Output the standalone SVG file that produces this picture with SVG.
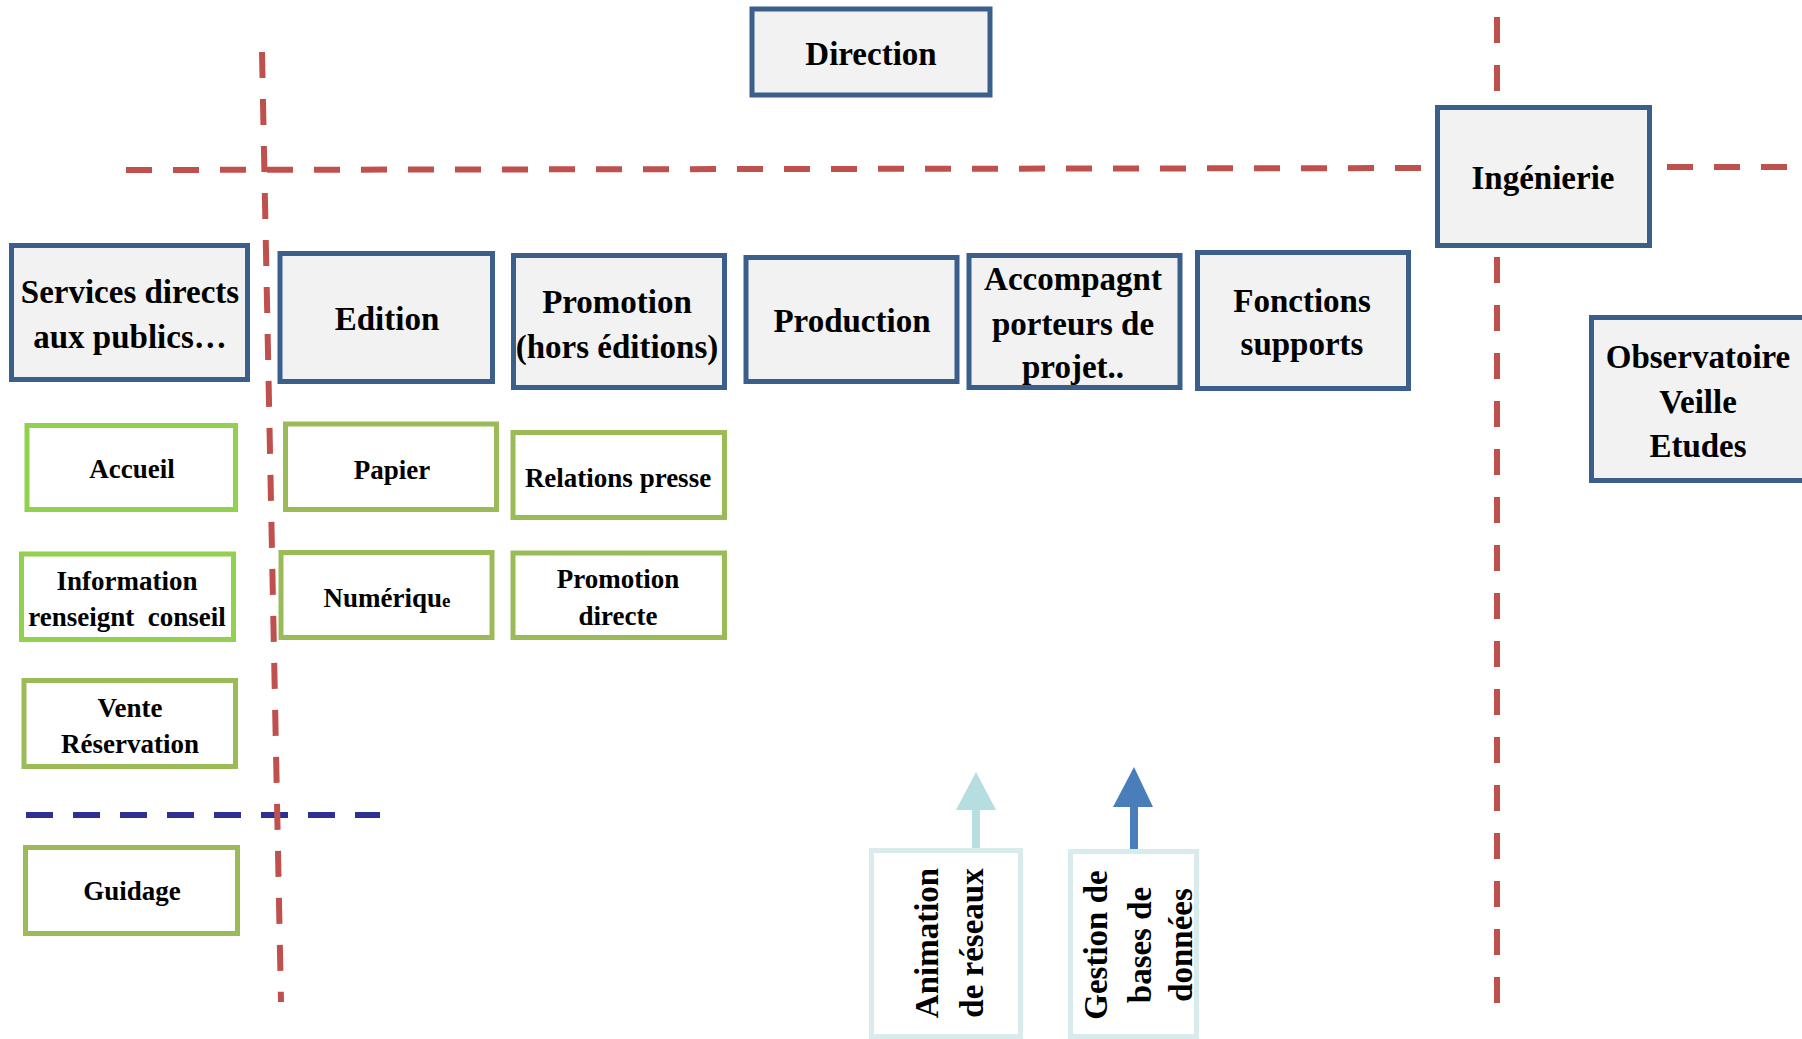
<svg xmlns="http://www.w3.org/2000/svg" width="1802" height="1039" viewBox="0 0 1802 1039">
<style>
.main{fill:#f2f2f2;stroke:#3a5f8b;stroke-width:5}
.sub{fill:#ffffff;stroke:#9bbb59;stroke-width:5}
.sub2{fill:#ffffff;stroke:#92d050;stroke-width:5}
.pale{fill:#ffffff;stroke:#d8ecee;stroke-width:5}
.t{font-family:"Liberation Serif","Times New Roman",serif;font-weight:bold;fill:#000;text-anchor:middle}
.big{font-size:33px}
.small{font-size:27px}
.red{stroke:#c0504d;stroke-width:6;stroke-dasharray:26 21;fill:none}
.blue{stroke:#2e3192;stroke-width:6;stroke-dasharray:27 20;fill:none}
</style>
<rect width="1802" height="1039" fill="#ffffff"/>
<g id="connectors">
  <line class="blue" x1="26" y1="815" x2="380" y2="815"/>
  <line class="red" x1="262" y1="52" x2="281" y2="1002"/>
  <line class="red" x1="126" y1="170" x2="1437" y2="168"/>
  <line class="red" x1="1667" y1="167" x2="1802" y2="167"/>
  <line class="red" x1="1497" y1="17" x2="1497" y2="1003" style="stroke-dasharray:26 22"/>
  <line x1="976" y1="860" x2="976" y2="806" stroke="#b6dde0" stroke-width="8"/>
  <polygon points="976,772 956,810 996,810" fill="#b6dde0"/>
  <line x1="1134" y1="857" x2="1134" y2="803" stroke="#4a7ebb" stroke-width="8"/>
  <polygon points="1134,767 1113,807 1153,807" fill="#4a7ebb"/>
</g>
<g id="direction">
  <rect class="main" x="752" y="9" width="238" height="86"/>
  <text class="t big" x="871" y="65">Direction</text>
</g>
<g id="services">
  <rect class="main" x="11.5" y="245.5" width="236" height="134"/>
  <text class="t big" x="130" y="303">Services directs</text>
  <text class="t big" x="130" y="348">aux publics…</text>
</g>
<g id="edition">
  <rect class="main" x="280" y="253.5" width="212.5" height="128"/>
  <text class="t big" x="387" y="330">Edition</text>
</g>
<g id="promotion">
  <rect class="main" x="513.5" y="255.5" width="211" height="132"/>
  <text class="t big" x="617" y="313">Promotion</text>
  <text class="t big" x="617" y="358">(hors éditions)</text>
</g>
<g id="production">
  <rect class="main" x="746" y="257.5" width="211" height="124"/>
  <text class="t big" x="852" y="332">Production</text>
</g>
<g id="accompagnement">
  <rect class="main" x="969" y="255.5" width="211" height="132"/>
  <text class="t big" x="1073" y="290">Accompagnt</text>
  <text class="t big" x="1073" y="335">porteurs de</text>
  <text class="t big" x="1073" y="378">projet..</text>
</g>
<g id="fonctions">
  <rect class="main" x="1197.5" y="252.5" width="211" height="136"/>
  <text class="t big" x="1302" y="312">Fonctions</text>
  <text class="t big" x="1302" y="355">supports</text>
</g>
<g id="ingenierie">
  <rect class="main" x="1437.5" y="107.5" width="212" height="138"/>
  <text class="t big" x="1543" y="189">Ingénierie</text>
</g>
<g id="observatoire">
  <rect class="main" x="1591.5" y="317.5" width="214" height="163"/>
  <text class="t big" x="1698" y="368">Observatoire</text>
  <text class="t big" x="1698" y="413">Veille</text>
  <text class="t big" x="1698" y="457">Etudes</text>
</g>
<g id="accueil">
  <rect class="sub2" x="27" y="425.5" width="208.5" height="84"/>
  <text class="t small" x="132" y="478">Accueil</text>
</g>
<g id="information">
  <rect class="sub2" x="21.5" y="554" width="212" height="85.5"/>
  <text class="t small" x="127" y="590">Information</text>
  <text class="t small" x="127" y="626" xml:space="preserve">renseignt  conseil</text>
</g>
<g id="vente">
  <rect class="sub" x="24" y="680.5" width="211.5" height="86"/>
  <text class="t small" x="130" y="717">Vente</text>
  <text class="t small" x="130" y="753">Réservation</text>
</g>
<g id="guidage">
  <rect class="sub" x="25.5" y="847.5" width="212" height="86"/>
  <text class="t small" x="132" y="900">Guidage</text>
</g>
<g id="papier">
  <rect class="sub" x="285.5" y="424" width="211" height="85.5"/>
  <text class="t small" x="392" y="479">Papier</text>
</g>
<g id="numerique">
  <rect class="sub" x="281" y="552.5" width="211" height="85"/>
  <text class="t small" x="387" y="607">Numériqu<tspan font-size="19px">e</tspan></text>
</g>
<g id="relations">
  <rect class="sub" x="513" y="432.5" width="211.5" height="85"/>
  <text class="t small" x="618" y="487">Relations presse</text>
</g>
<g id="promodirecte">
  <rect class="sub" x="513" y="553" width="211.5" height="84.5"/>
  <text class="t small" x="618" y="588">Promotion</text>
  <text class="t small" x="618" y="625">directe</text>
</g>
<g id="animation">
  <rect class="pale" x="871.5" y="850.5" width="149" height="186"/>
  <text class="t big" transform="translate(938,943) rotate(-90)">Animation</text>
  <text class="t big" transform="translate(983,943) rotate(-90)">de réseaux</text>
</g>
<g id="gestion">
  <rect class="pale" x="1070.5" y="851.5" width="126" height="185"/>
  <text class="t big" transform="translate(1107,945) rotate(-90)">Gestion de</text>
  <text class="t big" transform="translate(1151,945) rotate(-90)">bases de</text>
  <text class="t big" transform="translate(1192,945) rotate(-90)">données</text>
</g>
</svg>
